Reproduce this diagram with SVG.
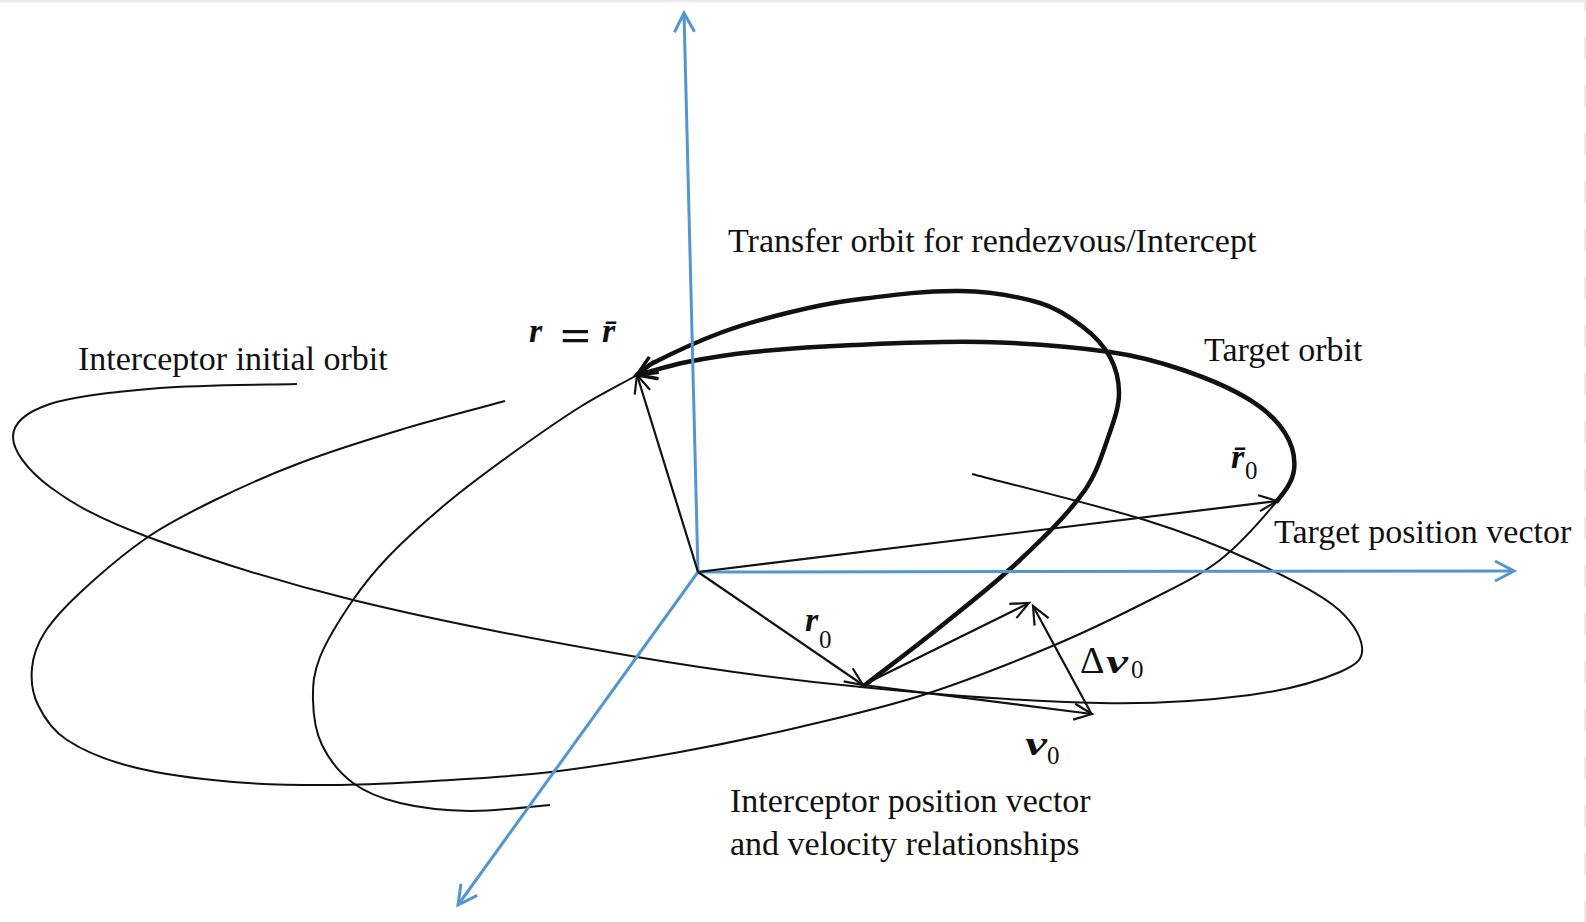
<svg xmlns="http://www.w3.org/2000/svg" width="1586" height="922" viewBox="0 0 1586 922">
<style>
.ax{stroke:#5496cf;stroke-width:3;fill:none;marker-end:url(#mb)}
.thin{stroke:#111;stroke-width:2;fill:none}
.thick{stroke:#111;stroke-width:4.5;fill:none;stroke-linecap:round}
.vec{stroke:#111;stroke-width:2.2;fill:none;marker-end:url(#mk)}
text{font-family:"Liberation Serif","Times New Roman",serif;fill:#111;font-size:34px}
.bi{font-weight:bold;font-style:italic}
.sub{font-size:25px;font-weight:normal;font-style:normal}
.eq{font-size:46px;font-weight:bold}
.big{font-size:38px}
</style>
<defs>
<marker id="mb" markerUnits="userSpaceOnUse" markerWidth="40" markerHeight="40" refX="0" refY="0" orient="auto" overflow="visible">
<path d="M-19,-10 L0,0 L-19,10" fill="none" stroke="#5496cf" stroke-width="3"/>
</marker>
<marker id="mk" markerUnits="userSpaceOnUse" markerWidth="40" markerHeight="40" refX="0" refY="0" orient="auto" overflow="visible">
<path d="M-18,-8 L0,0 L-18,8" fill="none" stroke="#111" stroke-width="2.2"/>
</marker>
<marker id="mt" markerUnits="userSpaceOnUse" markerWidth="40" markerHeight="40" refX="0" refY="0" orient="auto" overflow="visible">
<path d="M-20,-9 L0,0 L-20,9" fill="none" stroke="#111" stroke-width="3.5"/>
</marker>
</defs>
<rect width="1586" height="922" fill="#fff"/>
<line x1="0" y1="1" x2="1584" y2="1" stroke="#e9e9e9" stroke-width="2.5"/>
<line x1="1585" y1="0" x2="1585" y2="922" stroke="#ececec" stroke-width="2" stroke-dasharray="22 26" stroke-dashoffset="11"/>

<g id="orbits">
<path id="interceptor-orbit" class="thin" d="M297,384 C274.2,384.7 201.2,384.7 160,388 C118.8,391.3 74.5,395.8 50,404 C25.5,412.2 13,423.2 13,437 C13,450.8 27.5,470.3 50,487 C72.5,503.7 97.5,518.2 148,537 C198.5,555.8 271.5,580 353,600 C434.5,620 552.3,642.5 637,657 C721.7,671.5 783.8,679.3 861,687 C938.2,694.7 1035.2,701.7 1100,703 C1164.8,704.3 1210,700.2 1250,695 C1290,689.8 1321.3,680 1340,672 C1358.7,664 1363.2,658.2 1362,647 C1360.8,635.8 1351.7,619.5 1333,605 C1314.3,590.5 1281.3,574.2 1250,560 C1218.7,545.8 1191.3,534.3 1145,520 C1098.7,505.7 1000.8,481.7 972,474"/>
<path id="target-orbit-thin" class="thin" d="M505,401 C470,410.7 434.7,419.5 400,430 C366.4,440.1 332.8,450.6 300,463 C271.1,473.9 242.8,486.5 215,500 C192.1,511.2 169.1,522.6 148,537 C124.9,552.8 103.6,571 83,590 C69.1,602.8 55.3,616.2 45,632 C38,642.7 33.2,655.3 32,668 C30.8,680.5 32.5,693.8 38,705 C44.6,718.7 54.3,731.7 67,740 C86.9,753 109.9,761.2 133,767 C165.7,775.3 199.4,779.1 233,782 C268.6,785.1 304.3,785.3 340,785 C376.7,784.7 413.4,782.2 450,780 C483.7,777.9 517.4,776.1 551,772 C594.2,766.7 637.2,759.7 680,752 C720.2,744.7 760.2,736.3 800,727 C841.3,717.3 882.6,707.9 923,695 C966.1,681.2 1008.2,664.5 1050,647 C1083.9,632.8 1117.2,616.7 1150,600 C1173.9,587.8 1198.8,576.5 1220,560 C1241.5,543.2 1259.7,522.1 1277,501"/>
<path id="target-orbit-thick" class="thick" marker-end="url(#mt)" d="M1277,501 C1284.5,491.9 1292.6,481.7 1294,470 C1295.5,457.4 1291.8,443.7 1285,433 C1276.5,419.5 1263.6,408.4 1250,400 C1229.2,387.1 1206.2,377.9 1183,370 C1159.3,361.9 1134.8,355.5 1110,352 C1067.9,346.1 1025.5,343.1 983,342 C939.7,340.8 896.3,343.1 853,345 C819.6,346.4 786.2,348.6 753,352 C730.8,354.3 708.9,357.7 687,362 C670.1,365.3 653.6,370.7 637,375"/>
<path id="transfer-orbit-thick" class="thick" marker-end="url(#mt)" d="M865,685 C890,665.7 915.4,646.8 940,627 C967.1,605.1 994.7,583.9 1020,560 C1043.1,538.2 1066.7,516 1085,490 C1097.1,472.7 1103,451.9 1110,432 C1114.4,419.4 1119,406.3 1119,393 C1119,380.6 1115.9,367.9 1110,357 C1103.5,345.1 1093.7,335.2 1083,327 C1070,317 1055.7,307.6 1040,303 C1014.1,295.4 987,291.4 960,291 C924.2,290.4 888.5,295.5 853,300 C830.8,302.8 808.8,307.6 787,313 C764.4,318.6 741.8,324.8 720,333 C697,341.6 674.9,351.9 653,363 C647,366 642.7,371.5 637,375"/>
<path id="transfer-orbit-thin" class="thin" d="M637,375 C624.8,382.3 601.2,393.7 580,407 C558.8,420.3 532.2,439 510,455 C487.8,471 467,486.3 447,503 C427,519.7 405.7,538.8 390,555 C374.3,571.2 364.7,583 353,600 C341.3,617 326.7,640.3 320,657 C313.3,673.7 312.7,685.3 313,700 C313.3,714.7 315.3,731.2 322,745 C328.7,758.8 340,773.3 353,783 C366,792.7 380.5,798.3 400,803 C419.5,807.7 445,810.7 470,811 C495,811.3 536.7,806 550,805"/>
</g>

<g id="axes">
<line id="axis-z" class="ax" x1="698" y1="572" x2="684" y2="13"/>
<line id="axis-x" class="ax" x1="698" y1="572" x2="1514" y2="571"/>
<line id="axis-y" class="ax" x1="698" y1="572" x2="458" y2="905"/>
</g>

<g id="connectors">
<line id="vec-r" class="vec" x1="698" y1="572" x2="637" y2="375"/>
<line id="vec-rbar0" class="vec" x1="698" y1="572" x2="1277" y2="501"/>
<line id="vec-r0" class="vec" x1="698" y1="572" x2="863" y2="685"/>
<line id="vec-v0" class="vec" x1="863" y1="685" x2="1092" y2="714"/>
<line id="vec-v" class="vec" x1="863" y1="685" x2="1029" y2="603"/>
<line id="vec-dv0" class="vec" x1="1091" y1="713" x2="1033" y2="606"/>
</g>

<g id="label-transfer"><text x="728" y="252">Transfer orbit for rendezvous/Intercept</text></g>
<g id="label-interceptor-orbit"><text x="78" y="370">Interceptor initial orbit</text></g>
<g id="label-target-orbit"><text x="1204" y="361">Target orbit</text></g>
<g id="label-target-vector"><text x="1274" y="543">Target position vector</text></g>
<g id="label-interceptor-vector"><text x="730" y="812">Interceptor position vector</text><text x="730" y="855">and velocity relationships</text></g>
<g id="label-r-eq">
<text class="bi" x="529" y="342">r</text>
<text class="eq" x="560" y="351" textLength="31" lengthAdjust="spacingAndGlyphs">=</text>
<text class="bi" x="602" y="342">r̄</text>
</g>
<g id="label-rbar0"><text class="bi" x="1231" y="468">r̄</text><text class="sub" x="1245" y="479">0</text></g>
<g id="label-r0"><text class="bi" x="805" y="631">r</text><text class="sub" x="819" y="648">0</text></g>
<g id="label-dv0"><text class="big" x="1080" y="673">Δ</text><text class="bi" x="1106" y="673" textLength="22" lengthAdjust="spacingAndGlyphs">v</text><text class="sub" x="1131" y="678">0</text></g>
<g id="label-v0"><text class="bi" x="1025" y="755" textLength="22" lengthAdjust="spacingAndGlyphs">v</text><text class="sub" x="1047" y="764">0</text></g>
</svg>
